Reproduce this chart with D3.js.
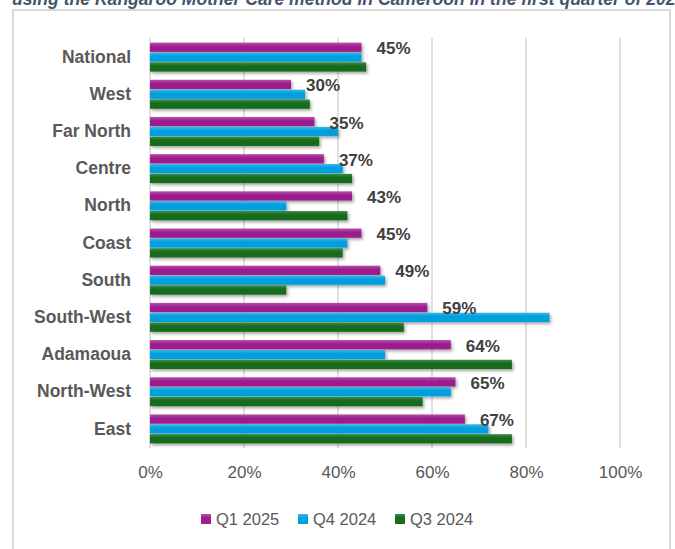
<!DOCTYPE html>
<html>
<head>
<meta charset="utf-8">
<script src="https://cdn.jsdelivr.net/npm/d3@7"></script>
<style>
  html, body { margin: 0; padding: 0; background: #ffffff; }
  svg { display: block; }
</style>
</head>
<body>
<script>
// ---- data ----
const titleText = "using the Kangaroo Mother Care method in Cameroon in the first quarter of 2025";
const categories = ["National", "West", "Far North", "Centre", "North", "Coast", "South", "South-West", "Adamaoua", "North-West", "East"];
const seriesNames = ["Q1 2025", "Q4 2024", "Q3 2024"];
const q1_2025 = [45, 30, 35, 37, 43, 45, 49, 59, 64, 65, 67];
const q4_2024 = [45, 33, 40, 41, 29, 42, 50, 85, 50, 64, 72];
const q3_2024 = [46, 34, 36, 43, 42, 41, 29, 54, 77, 58, 77];
const xTicks = [0, 20, 40, 60, 80, 100];
const seriesValues = [q1_2025, q4_2024, q3_2024];

// ---- styles ----
const W = 675, H = 549;
const colors = [
  {top: "#b852ab", main: "#9c1f8d"},
  {top: "#3fb5e8", main: "#009fde"},
  {top: "#3f8c45", main: "#146c1f"}
];
const swatch = ["#9c1f8d", "#009fde", "#146c1f"];

const svg = d3.select("body").append("svg").attr("width", W).attr("height", H);
const defs = svg.append("defs");
colors.forEach((c, i) => {
  const g = defs.append("linearGradient").attr("id", "g" + i)
    .attr("x1", 0).attr("y1", 0).attr("x2", 0).attr("y2", 1);
  g.append("stop").attr("offset", "0%").attr("stop-color", c.top);
  g.append("stop").attr("offset", "40%").attr("stop-color", c.main);
  g.append("stop").attr("offset", "100%").attr("stop-color", c.main);
});
const f = defs.append("filter").attr("id", "shadow")
  .attr("x", "-5%").attr("y", "-30%").attr("width", "115%").attr("height", "180%");
f.append("feDropShadow").attr("dx", 1.5).attr("dy", 2).attr("stdDeviation", 1.6)
  .attr("flood-color", "#000").attr("flood-opacity", 0.35);

// frame
svg.append("rect").attr("x", 13).attr("y", 10).attr("width", 657).attr("height", 548)
  .attr("fill", "#fff").attr("stroke", "#d9d9d9").attr("stroke-width", 2);

// title (clipped at top / right as in the reference)
const title = svg.append("text").attr("x", 12).attr("y", 5)
  .attr("font-family", "Liberation Sans, Arial, sans-serif")
  .attr("font-weight", "bold").attr("font-style", "italic")
  .attr("fill", "#44546a").attr("font-size", 18)
  .text(titleText.slice(0, titleText.length - 1));
const tw = title.node().getComputedTextLength();
title.attr("font-size", 18 * 664 / tw).text(titleText);

// scales
const x = d3.scaleLinear().domain([0, 100]).range([150, 620]);
const y = d3.scaleBand().domain(categories).range([38.5, 447.5]).paddingInner(0.22).paddingOuter(0.11);
const ys = d3.scaleBand().domain(d3.range(seriesNames.length)).range([0, y.bandwidth()]).paddingInner(0.06);

// gridlines
svg.append("g").selectAll("line").data(xTicks).join("line")
  .attr("x1", d => x(d)).attr("x2", d => x(d))
  .attr("y1", 38).attr("y2", 448)
  .attr("stroke", "#d9d9d9").attr("stroke-width", 1.6);

// x axis labels
const xAxis = d3.axisBottom(x).tickValues(xTicks).tickFormat(d => d + "%").tickSize(0).tickPadding(0);
const xa = svg.append("g").attr("transform", "translate(0,466)").call(xAxis);
xa.select(".domain").remove();
xa.selectAll("text").attr("font-family", "Liberation Sans, Arial, sans-serif")
  .attr("font-size", 17).attr("fill", "#595959").attr("dy", "0.7em");

// y axis labels
const yAxis = d3.axisLeft(y).tickSize(0).tickPadding(0);
const ya = svg.append("g").attr("transform", "translate(131,0)").call(yAxis);
ya.select(".domain").remove();
ya.selectAll("text").attr("font-family", "Liberation Sans, Arial, sans-serif")
  .attr("font-size", 17.5).attr("font-weight", "bold").attr("fill", "#595959");

// bars
const groups = svg.append("g").selectAll("g").data(categories).join("g")
  .attr("transform", d => `translate(0,${y(d)})`);
groups.selectAll("rect").data((d, ci) => seriesValues.map((s, si) => ({si, v: s[ci]})))
  .join("rect")
  .attr("x", x(0))
  .attr("y", d => ys(d.si))
  .attr("width", d => x(d.v) - x(0))
  .attr("height", ys.bandwidth())
  .attr("fill", d => `url(#g${d.si})`)
  .attr("filter", "url(#shadow)");

// value labels for Q1 2025
svg.append("g").selectAll("text").data(categories).join("text")
  .attr("x", (d, i) => x(q1_2025[i]) + 15)
  .attr("y", d => y(d) + ys(0) + ys.bandwidth() / 2 + 1)
  .attr("dy", "0.35em")
  .attr("font-family", "Liberation Sans, Arial, sans-serif")
  .attr("font-size", 17).attr("font-weight", "bold").attr("fill", "#404040")
  .text((d, i) => q1_2025[i] + "%");

// legend
const legendX = [201, 298, 395];
const lg = svg.append("g").selectAll("g").data(seriesNames).join("g")
  .attr("transform", (d, i) => `translate(${legendX[i]},514)`);
lg.append("rect").attr("width", 10).attr("height", 10).attr("fill", (d, i) => `url(#g${i})`);
lg.append("text").attr("x", 15).attr("y", 5).attr("dy", "0.36em")
  .attr("font-family", "Liberation Sans, Arial, sans-serif")
  .attr("font-size", 16.5).attr("fill", "#595959").text(d => d);
</script>
</body>
</html>
